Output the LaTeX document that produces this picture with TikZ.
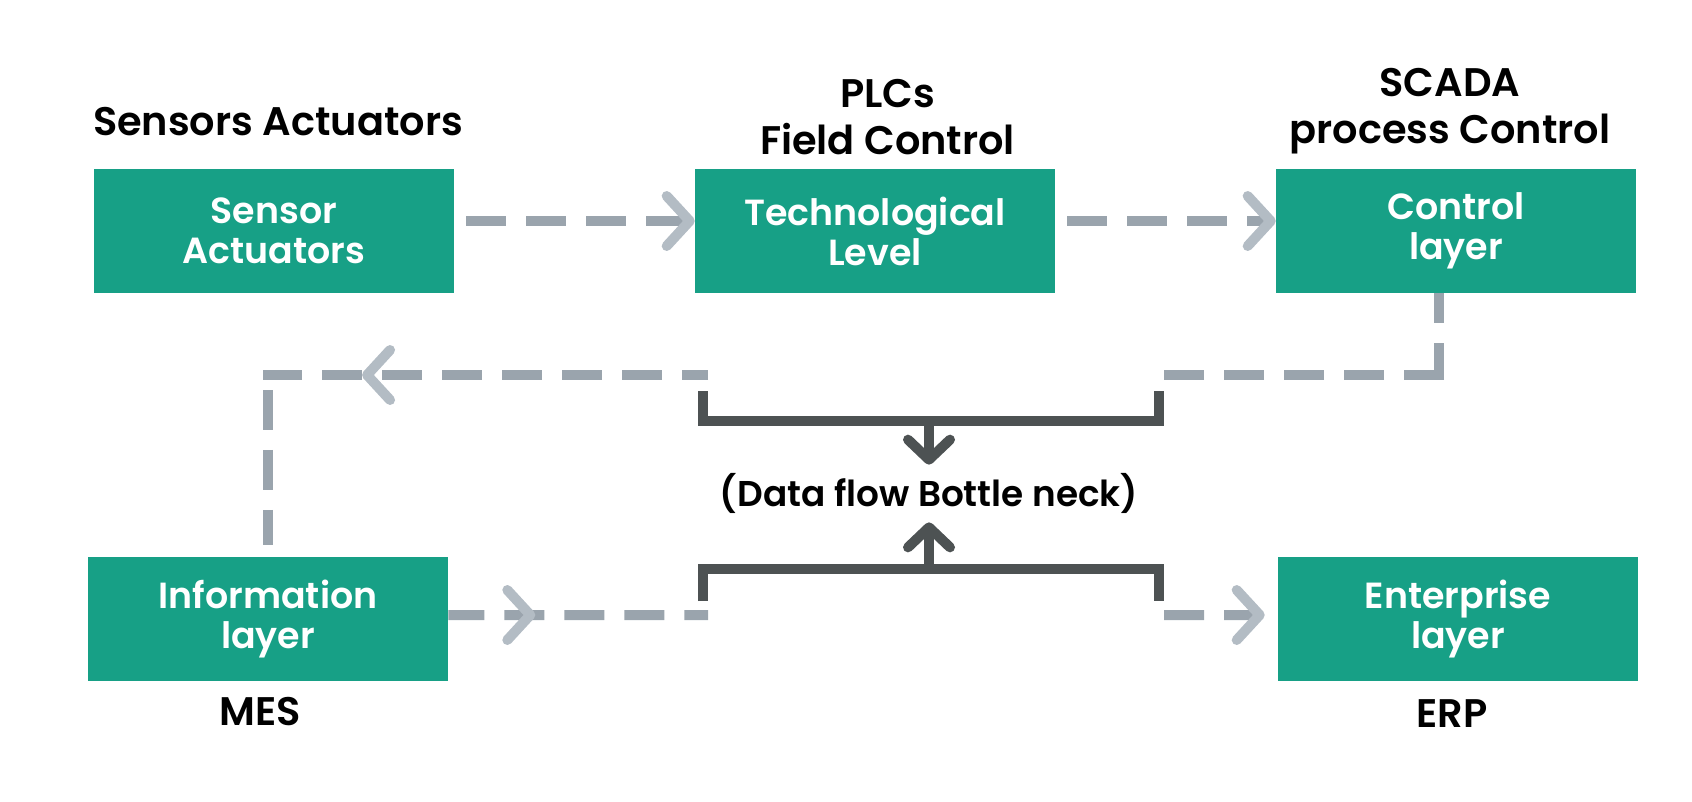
\documentclass[tikz,border=0pt]{standalone}
\usepackage{fontspec}
\setmainfont{Poppins}[BoldFont={Poppins SemiBold}]
\usetikzlibrary{arrows.meta,positioning,decorations.markings}

\definecolor{layergreen}{HTML}{17A086}
\definecolor{flowgray}{HTML}{9AA4AD}
\definecolor{chevgray}{HTML}{B3BCC4}
\definecolor{neckdark}{HTML}{4D5253}

\tikzset{
    chev/.tip = {Straight Barb[length=0.46cm, width=1.0cm, line width=0.2cm, round, color=chevgray]},
    neckchev/.tip = {Straight Barb[length=0.4cm, width=0.84cm, line width=0.2cm, round, color=neckdark]}
}

\begin{document}
\begin{tikzpicture}[x=0.02cm, y=-0.02cm,
        layer/.style = {fill=layergreen, minimum width=7.2cm, minimum height=2.48cm, inner sep=0pt,
            text=white, align=center, font=\bfseries\fontsize{20.7}{22.8}\selectfont},
        tag/.style = {align=center, inner sep=0pt, font=\bfseries\fontsize{22.7}{26.5}\selectfont},
        flow/.style = {draw=flowgray, line width=0.2cm, dash pattern=on 0.8cm off 0.4cm},
        neckline/.style = {draw=neckdark, line width=0.2cm},
        midchev/.style = {postaction={decorate, decoration={markings, mark=at position #1 with {\arrow{chev}}}}}
    ]
    \useasboundingbox (0,0) rectangle (1692,801);

    % layers
    \node[layer] (sens) at (274,231) {Sensor\\Actuators};
    \node[layer] (tech) at (875,231) {Technological\\Level};
    \node[layer] (ctrl) at (1456,231) {Control\\layer};
    \node[layer] (info) at (268,619) {Information\\layer};
    \node[layer] (ent) at (1458,619) {Enterprise\\layer};

    % captions
    \node[tag, above=0.64cm of sens, xshift=0.08cm] (sensT) {Sensors Actuators};
    \node[tag, above=0.27cm of tech, xshift=0.25cm] (techT) {PLCs\\Field Control};
    \node[tag, above=0.29cm of ctrl, xshift=-0.12cm] (ctrlT) {SCADA\\process Control};
    \node[tag, below=0.32cm of info, xshift=-0.16cm] (infoT) {MES};
    \node[tag, below=0.36cm of ent, xshift=-0.12cm] (entT) {ERP};

    % bottle neck
    \node[inner sep=0pt, minimum height=1.14cm, font=\bfseries\fontsize{20.4}{24}\selectfont] (neck) at (929,493.5) {(Data flow Bottle neck)};
    \coordinate (upL) at (708,375);
    \coordinate (upR) at (1164,375);
    \coordinate (loL) at (708,615);
    \coordinate (loR) at (1164,615);
    \coordinate (brUL) at (703,391);
    \coordinate (brUR) at (1159,391);
    \coordinate (brLL) at (703,601);
    \coordinate (brLR) at (1159,601);
    \coordinate (stemU) at (929,421);
    \coordinate (stemL) at (929,569);
    \coordinate (cornerL) at (info.north |- upL);
    \coordinate (cornerR) at ([xshift=-0.34cm]ctrl.south |- upR);

    \draw[neckline] (brUL) |- (stemU) -| (brUR);
    \draw[neckline] (brLL) |- (stemL) -| (brLR);
    \draw[neckline, -{neckchev}] (stemU) -- (neck.north);
    \draw[neckline, -{neckchev}] (stemL) -- (neck.south);

    % data flow
    \draw[flow, -{chev}, shorten <=0.24cm] ([yshift=0.2cm]sens.east) -- ([yshift=0.2cm]tech.west);
    \draw[flow, -{chev}, shorten <=0.24cm] ([yshift=0.2cm]tech.east) -- ([yshift=0.2cm]ctrl.west);
    \draw[flow, dash phase=0.2cm] ([xshift=-0.34cm]ctrl.south) -- ([yshift=-0.1cm]cornerR);
    \draw[flow] ([xshift=0.1cm]cornerR) -- (upR);
    \draw[flow, dash phase=0.28cm, midchev=6.92cm] (upL) -- ([xshift=-0.1cm]cornerL);
    \draw[flow, shorten >=0.24cm] ([yshift=-0.3cm]cornerL) -- (info.north);
    \draw[flow, dash phase=0.08cm, midchev=1.74cm] ([yshift=0.08cm]info.east) -- (loL);
    \draw[flow, -{chev}, shorten >=0.26cm] (loR) -- ([yshift=0.08cm]ent.west);
\end{tikzpicture}
\end{document}
